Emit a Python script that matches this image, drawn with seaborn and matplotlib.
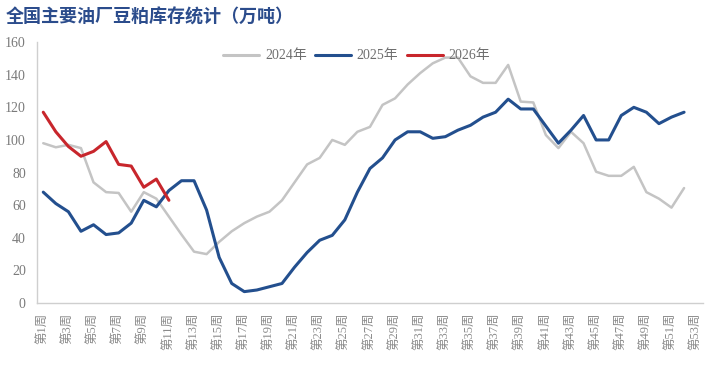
import numpy as np
import pandas as pd
import seaborn as sns
import matplotlib.pyplot as plt
from matplotlib.ticker import FixedLocator

weeks = [f"第{i}周" for i in range(1, 54)]

v2024 = [98, 95.5, 97, 95, 74, 68, 67.5, 56, 68, 64,
         53, 42, 31.5, 30, 37.5, 44, 49, 53, 56, 63,
         74, 85, 89, 100, 97, 105, 108, 121.5, 125.5, 134,
         141, 147, 150.5, 150.5, 139, 135, 135, 146, 123.5, 123,
         103, 95, 105, 98, 80.5, 78, 78, 83.5, 68, 64,
         58.5, 70.5]
v2025 = [68, 61, 56, 44, 48, 42, 43, 49, 63, 59,
         69, 75, 75, 57, 28, 12, 7, 8, 10, 12,
         22, 31, 38.5, 41.5, 51, 68, 82.5, 89, 100, 105,
         105, 101, 102, 106, 109, 114, 117, 125, 119, 119,
         108.5, 98, 106, 115, 100, 100, 115, 120, 117, 110,
         114, 117]
v2026 = [117, 105, 96, 90, 93, 99, 85, 84, 71, 76, 63]

years = ["2024年", "2025年", "2026年"]
colors = ["#c4c4c4", "#234f8e", "#c8262c"]

rows = []
for yr, vals in zip(years, [v2024, v2025, v2026]):
    for i, v in enumerate(vals):
        rows.append({"week": i, "value": v, "year": yr})
df = pd.DataFrame(rows)

sns.set_style("white")
plt.rcParams['font.family'] = ['Liberation Serif', 'Noto Sans CJK SC', 'DejaVu Sans']

fig = plt.figure(figsize=(7.18, 3.66), dpi=100)
ax = fig.add_axes([0.0515, 0.172, 0.9275, 0.713])

sns.lineplot(data=df, x="week", y="value", hue="year", hue_order=years,
             palette=colors, linewidth=2.2, ax=ax)
# gray line a little thinner
ax.lines[0].set_linewidth(1.8)

ax.set_xlim(-0.5, 52.5)
ax.set_ylim(0, 160)
ax.set_yticks(range(0, 161, 20))
ax.set_xticks(range(0, 53, 2))
ax.set_xticklabels(weeks[::2], rotation=90, fontsize=9, color="#8a8a8a",
                   family=['Liberation Serif', 'Noto Sans CJK SC'])
ax.xaxis.set_minor_locator(FixedLocator(np.arange(-0.5, 53, 1)))
ax.tick_params(axis="x", which="major", length=0, pad=7)
ax.tick_params(axis="x", which="minor", direction="in", length=4, color="#bdbdbd", width=0.8)
ax.tick_params(axis="y", length=0, labelsize=10, labelcolor="#7a7a7a", pad=8)
ax.set_xlabel("")
ax.set_ylabel("")

for s in ["top", "right"]:
    ax.spines[s].set_visible(False)
for s in ["left", "bottom"]:
    ax.spines[s].set_color("#cfcfcf")
    ax.spines[s].set_linewidth(1)

ax.legend(loc="upper center", bbox_to_anchor=(0.48, 1.02), ncol=3, frameon=False,
          fontsize=10, handlelength=2.6, columnspacing=0.6, handletextpad=0.4,
          labelcolor="#6e6e6e")

fig.text(0.008, 0.953, "全国主要油厂豆粕库存统计（万吨）", fontsize=13, fontweight="bold",
         color="#2b4c8c", va="center", family=['Noto Sans CJK SC'])

plt.savefig("out.png", dpi=100)
